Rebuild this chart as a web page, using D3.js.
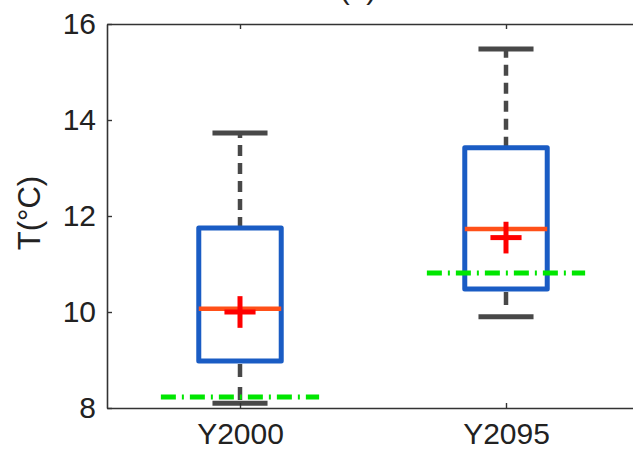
<!DOCTYPE html>
<html>
<head>
<meta charset="utf-8">
<script src="https://cdn.jsdelivr.net/npm/d3@7"></script>
<style>
  html, body { margin: 0; padding: 0; background: #fff; }
  svg { display: block; }
  text { font-family: "Liberation Sans", Arial, Helvetica, sans-serif; fill: #222; }
</style>
</head>
<body>
<svg id="chart" width="633" height="451"></svg>
<script>
// Temperature distributions for the two periods
const categories  = ["Y2000", "Y2095"];
const whiskerHigh = [13.73, 15.48];
const q3          = [11.75, 13.42];
const median      = [10.07, 11.73];
const mean        = [10.0, 11.55];
const q1          = [8.98, 10.48];
const whiskerLow  = [8.1, 9.9];
const reference   = [8.23, 10.81];
const yTicks      = [8, 10, 12, 14, 16];

const svg = d3.select("#chart");
const plotLeft = 107, plotTop = 24, plotBottom = 408;

// Category positions 1..n on a linear scale, with half a slot of padding each side
const x = d3.scaleLinear().domain([0.5, categories.length + 0.5]).range([plotLeft, plotLeft + 266 * categories.length]);
const y = d3.scaleLinear().domain([8, 16]).range([plotBottom, plotTop]);

const boxW = 0.31, capW = 0.207, refW = 0.595, plusW = 0.117;
const plusH = 0.33;
const rows = categories.map((c, i) => ({
  c, pos: i + 1,
  hi: whiskerHigh[i], q3: q3[i], med: median[i], mean: mean[i],
  q1: q1[i], lo: whiskerLow[i], ref: reference[i]
}));

const g = svg.append("g");

// Whiskers (dashed) and caps
g.selectAll(".wh-up").data(rows).join("line")
  .attr("x1", d => x(d.pos)).attr("x2", d => x(d.pos))
  .attr("y1", d => y(d.q3)).attr("y2", d => y(d.hi))
  .attr("stroke", "#484848").attr("stroke-width", 4.5).attr("stroke-dasharray", "11,7");
g.selectAll(".wh-lo").data(rows).join("line")
  .attr("x1", d => x(d.pos)).attr("x2", d => x(d.pos))
  .attr("y1", d => y(d.q1)).attr("y2", d => y(d.lo))
  .attr("stroke", "#484848").attr("stroke-width", 4.5).attr("stroke-dasharray", "0,3,13,7");
g.selectAll(".cap-hi").data(rows).join("line")
  .attr("x1", d => x(d.pos - capW / 2)).attr("x2", d => x(d.pos + capW / 2))
  .attr("y1", d => y(d.hi)).attr("y2", d => y(d.hi))
  .attr("stroke", "#484848").attr("stroke-width", 5);
g.selectAll(".cap-lo").data(rows).join("line")
  .attr("x1", d => x(d.pos - capW / 2)).attr("x2", d => x(d.pos + capW / 2))
  .attr("y1", d => y(d.lo)).attr("y2", d => y(d.lo))
  .attr("stroke", "#484848").attr("stroke-width", 5);

// Boxes
g.selectAll(".box").data(rows).join("rect")
  .attr("x", d => x(d.pos - boxW / 2))
  .attr("width", d => x(d.pos + boxW / 2) - x(d.pos - boxW / 2))
  .attr("y", d => y(d.q3))
  .attr("height", d => y(d.q1) - y(d.q3))
  .attr("fill", "none").attr("stroke", "#1a5cc4").attr("stroke-width", 5)
  .attr("stroke-linejoin", "round");

// Medians
g.selectAll(".med").data(rows).join("line")
  .attr("x1", d => x(d.pos - boxW / 2)).attr("x2", d => x(d.pos + boxW / 2))
  .attr("y1", d => y(d.med)).attr("y2", d => y(d.med))
  .attr("stroke", "#ff5019").attr("stroke-width", 4.5);

// Reference level (dash-dot)
g.selectAll(".ref").data(rows).join("line")
  .attr("x1", d => x(d.pos - refW / 2)).attr("x2", d => x(d.pos + refW / 2))
  .attr("y1", d => y(d.ref)).attr("y2", d => y(d.ref))
  .attr("stroke", "#00e600").attr("stroke-width", 5).attr("stroke-dasharray", "15,6,2,6");

// Means as plus markers
const plus = g.selectAll(".mean").data(rows).join("g");
plus.append("line")
  .attr("x1", d => x(d.pos - plusW / 2)).attr("x2", d => x(d.pos + plusW / 2))
  .attr("y1", d => y(d.mean)).attr("y2", d => y(d.mean))
  .attr("stroke", "#ff0000").attr("stroke-width", 5);
plus.append("line")
  .attr("x1", d => x(d.pos)).attr("x2", d => x(d.pos))
  .attr("y1", d => y(d.mean - plusH)).attr("y2", d => y(d.mean + plusH))
  .attr("stroke", "#ff0000").attr("stroke-width", 5);

// Axes with inward ticks
const axisStyle = sel => {
  sel.select(".domain").attr("stroke", "#333").attr("stroke-width", 1.6);
  sel.selectAll(".tick line").attr("stroke", "#333").attr("stroke-width", 1.4);
  sel.selectAll("text").attr("font-size", 30).attr("fill", "#222")
    .attr("font-family", "'Liberation Sans', Arial, Helvetica, sans-serif");
};

svg.append("g").attr("transform", `translate(${plotLeft},0)`)
  .call(d3.axisLeft(y).tickValues(yTicks).tickSize(-5).tickSizeOuter(0).tickPadding(11))
  .call(axisStyle);

svg.append("g").attr("transform", `translate(0,${plotBottom})`)
  .call(d3.axisBottom(x).tickValues(rows.map(d => d.pos))
    .tickFormat((d, i) => categories[i]).tickSize(-5).tickSizeOuter(0).tickPadding(15))
  .call(axisStyle);

svg.append("g").attr("transform", `translate(0,${plotTop})`)
  .call(d3.axisTop(x).tickValues(rows.map(d => d.pos)).tickFormat("").tickSize(-5).tickSizeOuter(0))
  .call(axisStyle);

// Y axis label
svg.append("text")
  .attr("transform", "translate(40,213) rotate(-90)")
  .attr("text-anchor", "middle")
  .attr("font-size", 31)
  .text("T(°C)");

// Panel title
svg.append("text")
  .attr("x", 358).attr("y", -1)
  .attr("text-anchor", "middle")
  .attr("font-size", 30)
  .text("(a)");
</script>
</body>
</html>
